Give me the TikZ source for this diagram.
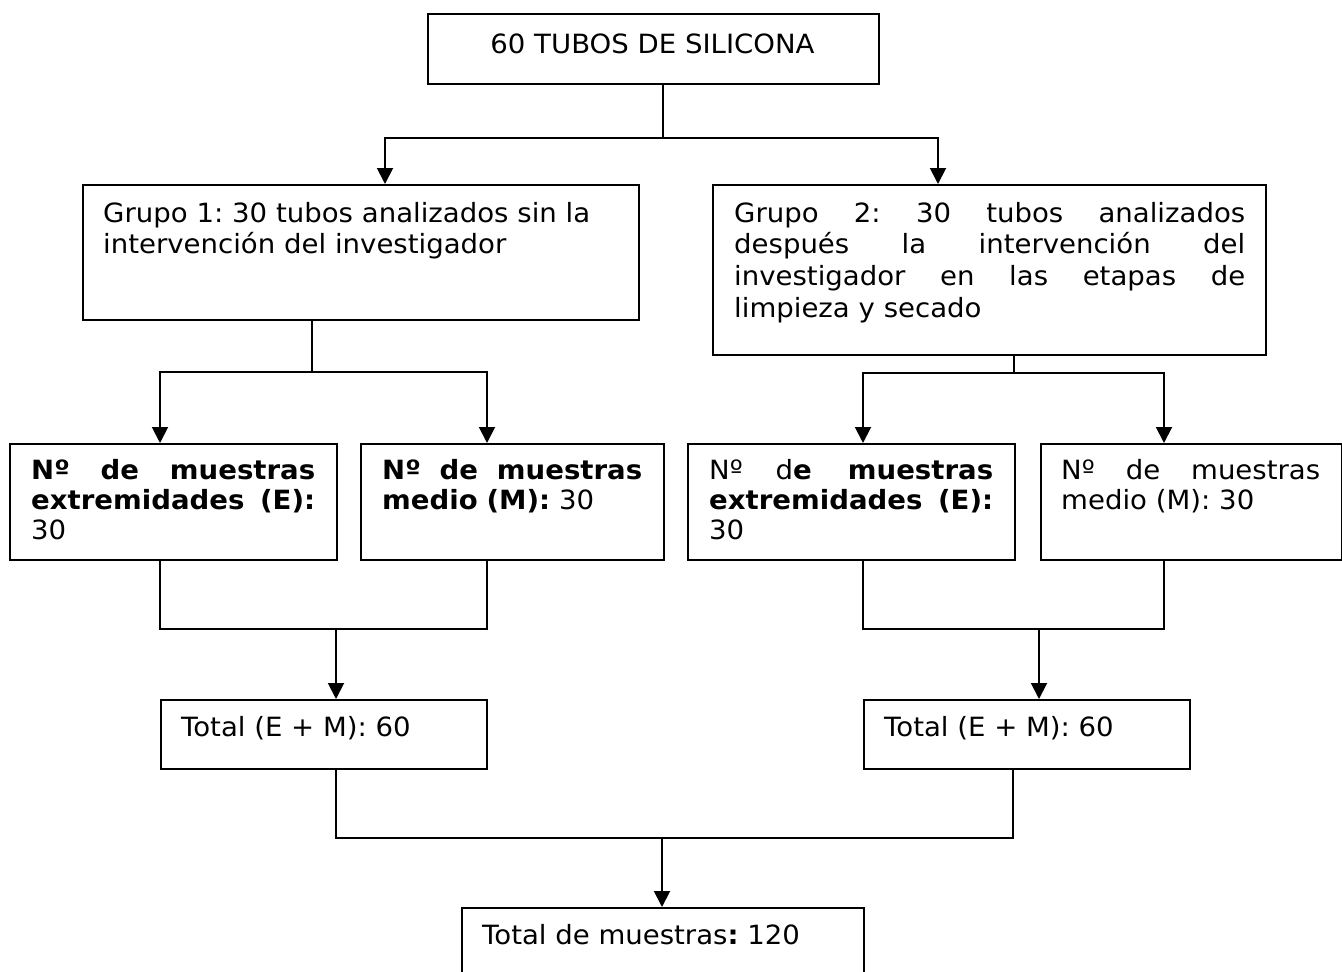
\documentclass[tikz,border=0pt]{standalone}
\usepackage{fontspec}
\setmainfont{DejaVu Sans}[FakeStretch=1.04]
\usetikzlibrary{arrows.meta}
\newcommand{\jl}[2]{\makebox[#1pt][s]{\spaceskip=0pt \xspaceskip=0pt #2}}
\frenchspacing
\begin{document}
\begin{tikzpicture}[x=1pt,y=-1pt,
  box/.style={draw, line width=1.9pt, inner sep=0pt, anchor=north west},
  txt/.style={inner sep=0pt, anchor=base west, align=left, font=\fontsize{26.5}{31.7}\selectfont},
  txts/.style={inner sep=0pt, anchor=base west, align=left, font=\fontsize{26.5}{30}\selectfont},
  conn/.style={line width=1.9pt},
  arr/.style={line width=1.9pt, -{Triangle[width=16pt,length=16pt]}}]
\clip (0,0) rectangle (1342,972);
\fill[white] (0,0) rectangle (1342,972);
% boxes
\node[box, minimum width=451pt, minimum height=70pt] (top) at (427,13) {};
\node[box, minimum width=556pt, minimum height=135pt] (g1) at (82,184) {};
\node[box, minimum width=553pt, minimum height=170pt] (g2) at (712,184) {};
\node[box, minimum width=327pt, minimum height=116pt] (nA) at (9,443) {};
\node[box, minimum width=303pt, minimum height=116pt] (nB) at (360,443) {};
\node[box, minimum width=327pt, minimum height=116pt] (nC) at (687,443) {};
\node[box, minimum width=301pt, minimum height=116pt] (nD) at (1040,443) {};
\node[box, minimum width=326pt, minimum height=69pt] (tl) at (160,699) {};
\node[box, minimum width=326pt, minimum height=69pt] (tr) at (863,699) {};
\node[box, minimum width=402pt, minimum height=120pt] (fin) at (461,907) {};
% texts
\node[txt, anchor=base] (topt) at (652.5,53) {60 TUBOS DE SILICONA};
\node[txt, text width=520pt] (g1t) at (103,222) {Grupo 1: 30 tubos analizados sin la\\intervención del investigador};
\node[txt, text width=511pt] (g2t) at (734,222) {\jl{511}{Grupo 2: 30 tubos analizados}\\\jl{511}{después la intervención del}\\\jl{511}{investigador en las etapas de}\\limpieza y secado};
\node[txts, text width=284pt] (nAt) at (31,479) {\jl{284}{\textbf{Nº de muestras}}\\\jl{284}{\textbf{extremidades (E):}}\\30};
\node[txts, text width=260pt] (nBt) at (382,479) {\jl{260}{\textbf{Nº de muestras}}\\\textbf{medio (M):} 30};
\node[txts, text width=284pt] (nCt) at (709,479) {\jl{284}{Nº d\textbf{e muestras}}\\\jl{284}{\textbf{extremidades (E):}}\\30};
\node[txts, text width=259pt] (nDt) at (1061,479) {\jl{259}{Nº de muestras}\\medio (M): 30};
\node[txt] (tlt) at (181,736) {Total (E + M): 60};
\node[txt] (trt) at (884,736) {Total (E + M): 60};
\node[txt] (fint) at (482,944) {Total de muestras\textbf{:} 120};
% junction coordinates
\coordinate (j1) at (663,138);
\coordinate (a1) at (385,138);
\coordinate (a2) at (938,138);
\coordinate (b0) at (312,372);
\coordinate (b1) at (160,372);
\coordinate (b2) at (487,372);
\coordinate (c0) at (1014,373);
\coordinate (c1) at (863,373);
\coordinate (c2) at (1164,373);
\coordinate (d0) at (336,629);
\coordinate (d1) at (160,629);
\coordinate (d2) at (487,629);
\coordinate (e0) at (1039,629);
\coordinate (e1) at (863,629);
\coordinate (e2) at (1164,629);
\coordinate (f0) at (662,838);
\coordinate (f1) at (336,838);
\coordinate (f2) at (1013,838);
% connectors
\draw[conn] (top.south -| j1) -- (j1);
\draw[arr] (j1) -- (a1) -- (a1 |- g1.north);
\draw[arr] (j1) -- (a2) -- (a2 |- g2.north);
\draw[conn] (g1.south -| b0) -- (b0);
\draw[arr] (b0) -- (b1) -- (b1 |- nA.north);
\draw[arr] (b0) -- (b2) -- (b2 |- nB.north);
\draw[conn] (g2.south -| c0) -- (c0);
\draw[arr] (c0) -- (c1) -- (c1 |- nC.north);
\draw[arr] (c0) -- (c2) -- (c2 |- nD.north);
\draw[conn] (nA.south -| d1) -- (d1) -- (d2) -- (nB.south -| d2);
\draw[arr] (d0) -- (d0 |- tl.north);
\draw[conn] (nC.south -| e1) -- (e1) -- (e2) -- (nD.south -| e2);
\draw[arr] (e0) -- (e0 |- tr.north);
\draw[conn] (tl.south -| f1) -- (f1) -- (f2) -- (tr.south -| f2);
\draw[arr] (f0) -- (f0 |- fin.north);
\end{tikzpicture}
\end{document}
